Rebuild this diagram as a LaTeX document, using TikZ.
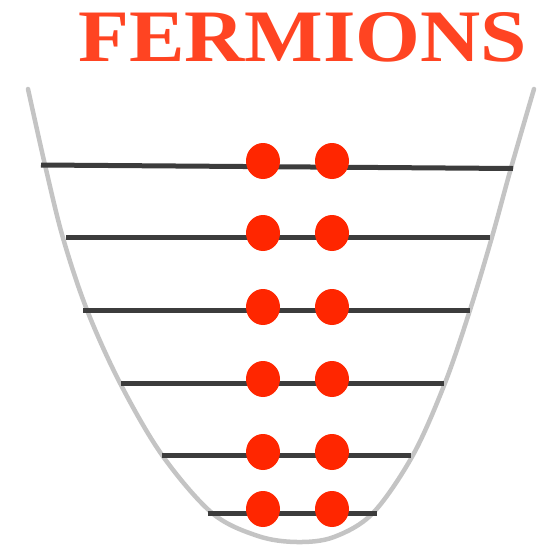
\documentclass[tikz,border=0pt]{standalone}
\usepackage{fontspec}
\setmainfont{Liberation Serif}
\usepackage{graphicx}
\usetikzlibrary{shapes.geometric}
\definecolor{titlered}{HTML}{FF4422}
\definecolor{dotred}{HTML}{FF2600}
\definecolor{levelgray}{HTML}{3C3C3C}
\definecolor{wellgray}{HTML}{C4C4C4}
\begin{document}
\begin{tikzpicture}[x=1pt,y=-1pt,
  level/.style={draw=levelgray,line width=5pt},
  well/.style={draw=wellgray,line width=4.5pt,line cap=round},
  fermion/.style={fill=dotred,draw=none,ellipse,minimum width=34pt,minimum height=36pt,inner sep=0pt}]
\useasboundingbox (0,0) rectangle (547,554);
\node[anchor=base west,inner sep=0pt,text=titlered] (title) at (78,61)
  {\resizebox{449pt}{49pt}{\bfseries FERMIONS}};
\draw[well] plot[smooth,tension=0.55] coordinates {(28,89) (45,165) (63,238) (87,310) (120,383) (162,455) (212,513) (258,536) (297,542) (334,537) (373,513) (413,455) (445,383) (470,310) (492,237) (511,168) (534,89)};
% levels
\coordinate (l1a) at (41,165); \coordinate (l1b) at (513,168.5);
\coordinate (l2a) at (66,237.5); \coordinate (l2b) at (490,237.5);
\coordinate (l3a) at (83,310); \coordinate (l3b) at (470,310);
\coordinate (l4a) at (121,383); \coordinate (l4b) at (444,383);
\coordinate (l5a) at (162,455); \coordinate (l5b) at (411,455);
\coordinate (l6a) at (208,513); \coordinate (l6b) at (377,513);
\foreach \i in {1,...,6} {\draw[level] (l\i a) -- (l\i b);}
% fermions
\foreach \i/\y in {1/161,2/233,3/307,4/379,5/452,6/509} {
  \node[fermion] (f\i a) at (263,\y) {};
  \node[fermion] (f\i b) at (332,\y) {};
}
\end{tikzpicture}
\end{document}
